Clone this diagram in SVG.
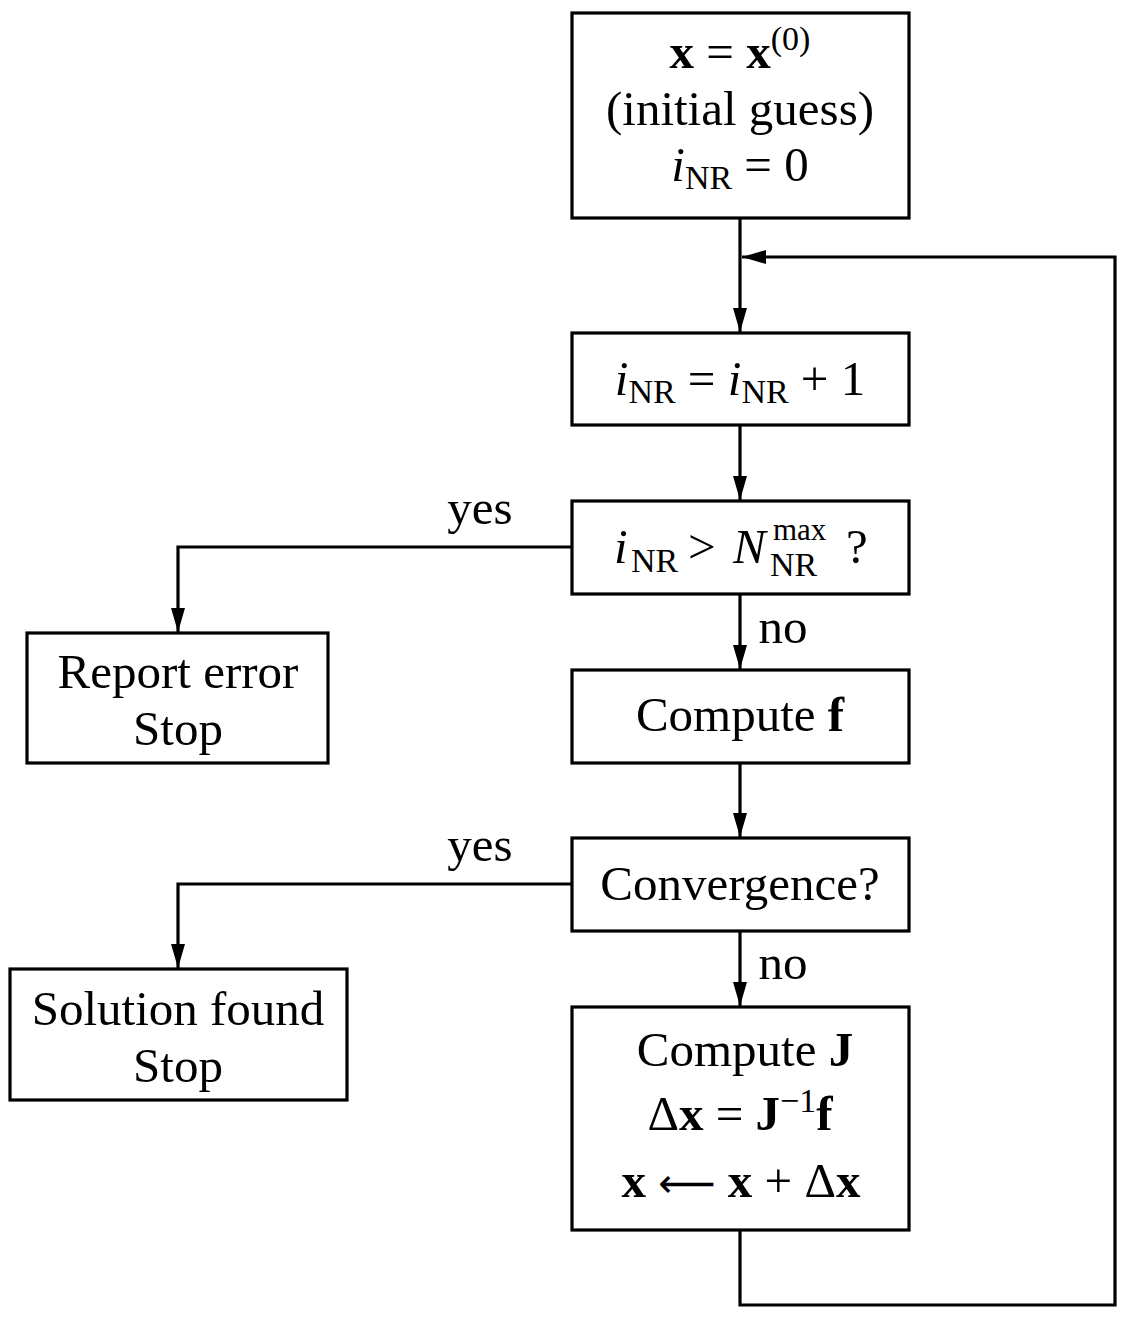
<svg xmlns="http://www.w3.org/2000/svg" width="1129" height="1317" viewBox="0 0 1129 1317">
<defs>
<style>
.box{fill:#fff;stroke:#000;stroke-width:3.2}
.c{fill:none;stroke:#000;stroke-width:3.2}
text{font-family:"Liberation Serif","Times New Roman",serif;font-size:49px;fill:#000}
.m{text-anchor:middle}
.b{font-weight:bold}
.i{font-style:italic}
.s{font-size:34px}
.ss{font-size:31px}
.ar{font-family:"DejaVu Sans",sans-serif;font-size:40px}
</style>
<marker id="ah" markerUnits="userSpaceOnUse" markerWidth="24" markerHeight="14" viewBox="0 0 24 14" refX="24" refY="7" orient="auto">
<path d="M0,0 L24,7 L0,14 Z" fill="#000"/>
</marker>
</defs>
<rect width="1129" height="1317" fill="#fff"/>
<g id="connectors">
<line class="c" x1="740" y1="218" x2="740" y2="332" marker-end="url(#ah)"/>
<line class="c" x1="740" y1="425" x2="740" y2="500" marker-end="url(#ah)"/>
<line class="c" x1="740" y1="594" x2="740" y2="669" marker-end="url(#ah)"/>
<line class="c" x1="740" y1="763" x2="740" y2="837" marker-end="url(#ah)"/>
<line class="c" x1="740" y1="931" x2="740" y2="1006" marker-end="url(#ah)"/>
<polyline class="c" points="572,547 178,547 178,632" marker-end="url(#ah)"/>
<polyline class="c" points="572,884 178,884 178,968" marker-end="url(#ah)"/>
<polyline class="c" points="740,1230 740,1305 1115,1305 1115,257 742,257" marker-end="url(#ah)"/>
<text class="m" x="480" y="524">yes</text>
<text class="m" x="480" y="861">yes</text>
<text class="m" x="783" y="643">no</text>
<text class="m" x="783" y="979">no</text>
</g>
<g id="init">
<rect class="box" x="572" y="13" width="337" height="205"/>
<text class="m" x="740" y="68"><tspan class="b">x</tspan> = <tspan class="b">x</tspan><tspan class="s" dy="-18">(0)</tspan></text>
<text class="m" x="740" y="125">(initial guess)</text>
<text class="m" x="740" y="181"><tspan class="i">i</tspan><tspan class="s" dy="8">NR</tspan><tspan dy="-8"> = 0</tspan></text>
</g>
<g id="increment">
<rect class="box" x="572" y="333" width="337" height="92"/>
<text class="m" x="740" y="395"><tspan class="i">i</tspan><tspan class="s" dy="8">NR</tspan><tspan dy="-8"> = </tspan><tspan class="i">i</tspan><tspan class="s" dy="8">NR</tspan><tspan dy="-8"> + 1</tspan></text>
</g>
<g id="maxcheck">
<rect class="box" x="572" y="501" width="337" height="93"/>
<text x="614" y="563" class="i">i</text>
<text x="631" y="572" class="s">NR</text>
<text x="688" y="563">&gt;</text>
<text x="733" y="563" class="i">N</text>
<text x="773" y="540" class="ss">max</text>
<text x="770" y="576" class="s">NR</text>
<text x="846" y="563">?</text>
</g>
<g id="computef">
<rect class="box" x="572" y="670" width="337" height="93"/>
<text class="m" x="740" y="731">Compute <tspan class="b">f</tspan></text>
</g>
<g id="convergence">
<rect class="box" x="572" y="838" width="337" height="93"/>
<text class="m" x="740" y="900">Convergence?</text>
</g>
<g id="update">
<rect class="box" x="572" y="1007" width="337" height="223"/>
<text class="m" x="745" y="1066">Compute <tspan class="b">J</tspan></text>
<text class="m" x="740" y="1130">Δ<tspan class="b">x</tspan> = <tspan class="b">J</tspan><tspan class="s" dy="-18">−1</tspan><tspan class="b" dy="18">f</tspan></text>
<text class="m" x="741" y="1197"><tspan class="b">x</tspan> <tspan class="ar">⟵</tspan> <tspan class="b">x</tspan> + Δ<tspan class="b">x</tspan></text>
</g>
<g id="error">
<rect class="box" x="27" y="633" width="301" height="130"/>
<text class="m" x="178" y="688">Report error</text>
<text class="m" x="178" y="745">Stop</text>
</g>
<g id="solution">
<rect class="box" x="10" y="969" width="337" height="131"/>
<text class="m" x="178" y="1025">Solution found</text>
<text class="m" x="178" y="1082">Stop</text>
</g>
</svg>
